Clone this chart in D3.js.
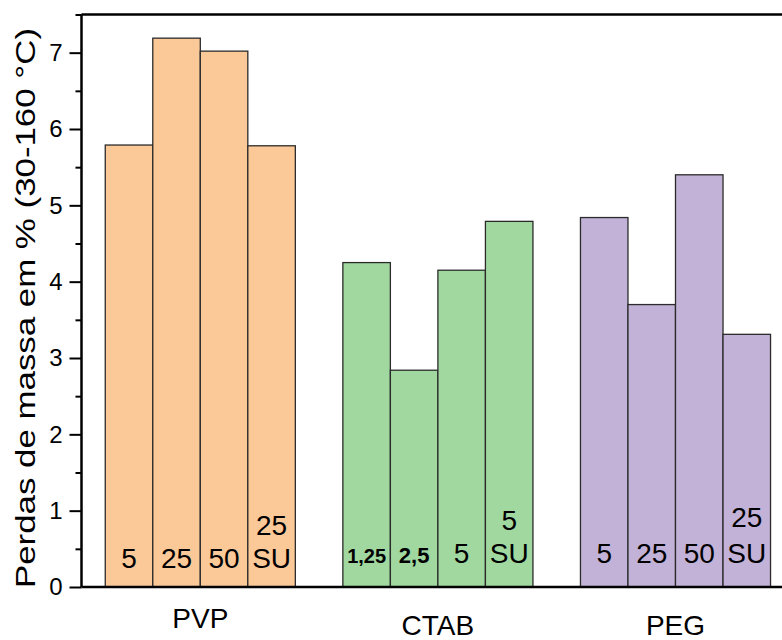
<!DOCTYPE html>
<html>
<head>
<meta charset="utf-8">
<script src="https://cdn.jsdelivr.net/npm/d3@7"></script>
<style>
  html, body { margin: 0; padding: 0; background: #fff; }
  svg { display: block; font-family: "Liberation Sans", Arial, sans-serif; }
</style>
</head>
<body>
<svg id="chart" width="782" height="640"></svg>
<script>
// Mass loss (30-160 °C) by surfactant and concentration
const groups = ["PVP", "CTAB", "PEG"];
const pvpValues  = [5.79, 7.19, 7.02, 5.78];
const ctabValues = [4.25, 2.84, 4.15, 4.79];
const pegValues  = [4.84, 3.70, 5.40, 3.31];
const pvpLabels  = ["5", "25", "50", "25\nSU"];
const ctabLabels = ["1,25", "2,5", "5", "5\nSU"];
const pegLabels  = ["5", "25", "50", "25\nSU"];
const yTicks = [0, 1, 2, 3, 4, 5, 6, 7];
const yTitle = "Perdas de massa em % (30-160 °C)";

const seriesValues = { PVP: pvpValues, CTAB: ctabValues, PEG: pegValues };
const seriesLabels = { PVP: pvpLabels, CTAB: ctabLabels, PEG: pegLabels };
const fills = { PVP: "#fbc898", CTAB: "#a0d8a0", PEG: "#c3b2d7" };

// Bar records: each group occupies 4 slots, with one empty slot between groups
const bars = [];
groups.forEach((g, gi) => {
  seriesValues[g].forEach((v, i) => {
    bars.push({ group: g, slot: gi * 5 + i, value: v, label: seriesLabels[g][i] });
  });
});

const svg = d3.select("#chart");
const x = d3.scaleLinear().domain([-0.5, 14.5]).range([81.5, 794.3]);
const y = d3.scaleLinear().domain([0, 7.5]).range([587, 14.5]);
const slotW = x(1) - x(0);

// Bars
svg.append("g").selectAll("rect")
  .data(bars)
  .join("rect")
  .attr("x", d => x(d.slot))
  .attr("y", d => y(d.value))
  .attr("width", slotW)
  .attr("height", d => y(0) - y(d.value))
  .attr("fill", d => fills[d.group])
  .attr("stroke", "#2b2b2b")
  .attr("stroke-width", 1.3);

// Concentration labels inside the bars
const labelBase = { PVP: 568, CTAB: 563, PEG: 563 };
const labelLead = { PVP: 33, CTAB: 33, PEG: 36 };
const compactSize = { "1,25": 20, "2,5": 22 };
const lab = svg.append("g").attr("text-anchor", "middle").attr("fill", "#000");
bars.forEach(d => {
  const lines = d.label.split("\n");
  const cx = x(d.slot) + slotW / 2;
  const small = compactSize[d.label];
  lines.forEach((t, k) => {
    lab.append("text")
      .attr("x", cx)
      .attr("y", labelBase[d.group] - (lines.length - 1 - k) * labelLead[d.group])
      .attr("font-size", small ? small : 28)
      .attr("font-weight", small ? "bold" : "normal")
      .text(t);
  });
});

// Frame: top border line
svg.append("line")
  .attr("x1", x(-0.5)).attr("x2", x(14.5))
  .attr("y1", y(7.5)).attr("y2", y(7.5))
  .attr("stroke", "#000").attr("stroke-width", 2.5);

// Bottom axis line
svg.append("line")
  .attr("x1", x(-0.5)).attr("x2", x(14.5))
  .attr("y1", y(0)).attr("y2", y(0))
  .attr("stroke", "#000").attr("stroke-width", 2.5);

// Left axis with major ticks and minor half-unit ticks
const yAxis = d3.axisLeft(y).tickValues(yTicks).tickSize(12).tickPadding(7).tickFormat(d3.format("d"));
const ga = svg.append("g").attr("transform", `translate(${x(-0.5)},0)`).call(yAxis);
ga.select(".domain").attr("stroke", "#000").attr("stroke-width", 2.5)
  .attr("d", `M0,${y(7.5)}V${y(0)}`);
ga.selectAll(".tick line").attr("stroke", "#000").attr("stroke-width", 2);
ga.selectAll(".tick text").attr("font-size", 24).attr("fill", "#000")
  .attr("font-family", "Liberation Sans, Arial, sans-serif");
const minor = d3.axisLeft(y).tickValues(yTicks.map(t => t + 0.5)).tickSize(6).tickFormat("");
const gm = svg.append("g").attr("transform", `translate(${x(-0.5)},0)`).call(minor);
gm.select(".domain").remove();
gm.selectAll(".tick line").attr("stroke", "#000").attr("stroke-width", 2);

// Group names under the axis
const groupBase = { PVP: 628, CTAB: 635, PEG: 635 };
svg.append("g").selectAll("text")
  .data(groups)
  .join("text")
  .attr("x", (g, gi) => (x(gi * 5) + x(gi * 5 + 4)) / 2)
  .attr("y", g => groupBase[g])
  .attr("text-anchor", "middle")
  .attr("font-size", 28)
  .attr("fill", "#000")
  .text(g => g);

// Y axis title
svg.append("text")
  .attr("transform", "translate(35,308) rotate(-90)")
  .attr("text-anchor", "middle")
  .attr("font-size", 28)
  .attr("textLength", 560)
  .attr("lengthAdjust", "spacingAndGlyphs")
  .attr("fill", "#000")
  .text(yTitle);
</script>
</body>
</html>
